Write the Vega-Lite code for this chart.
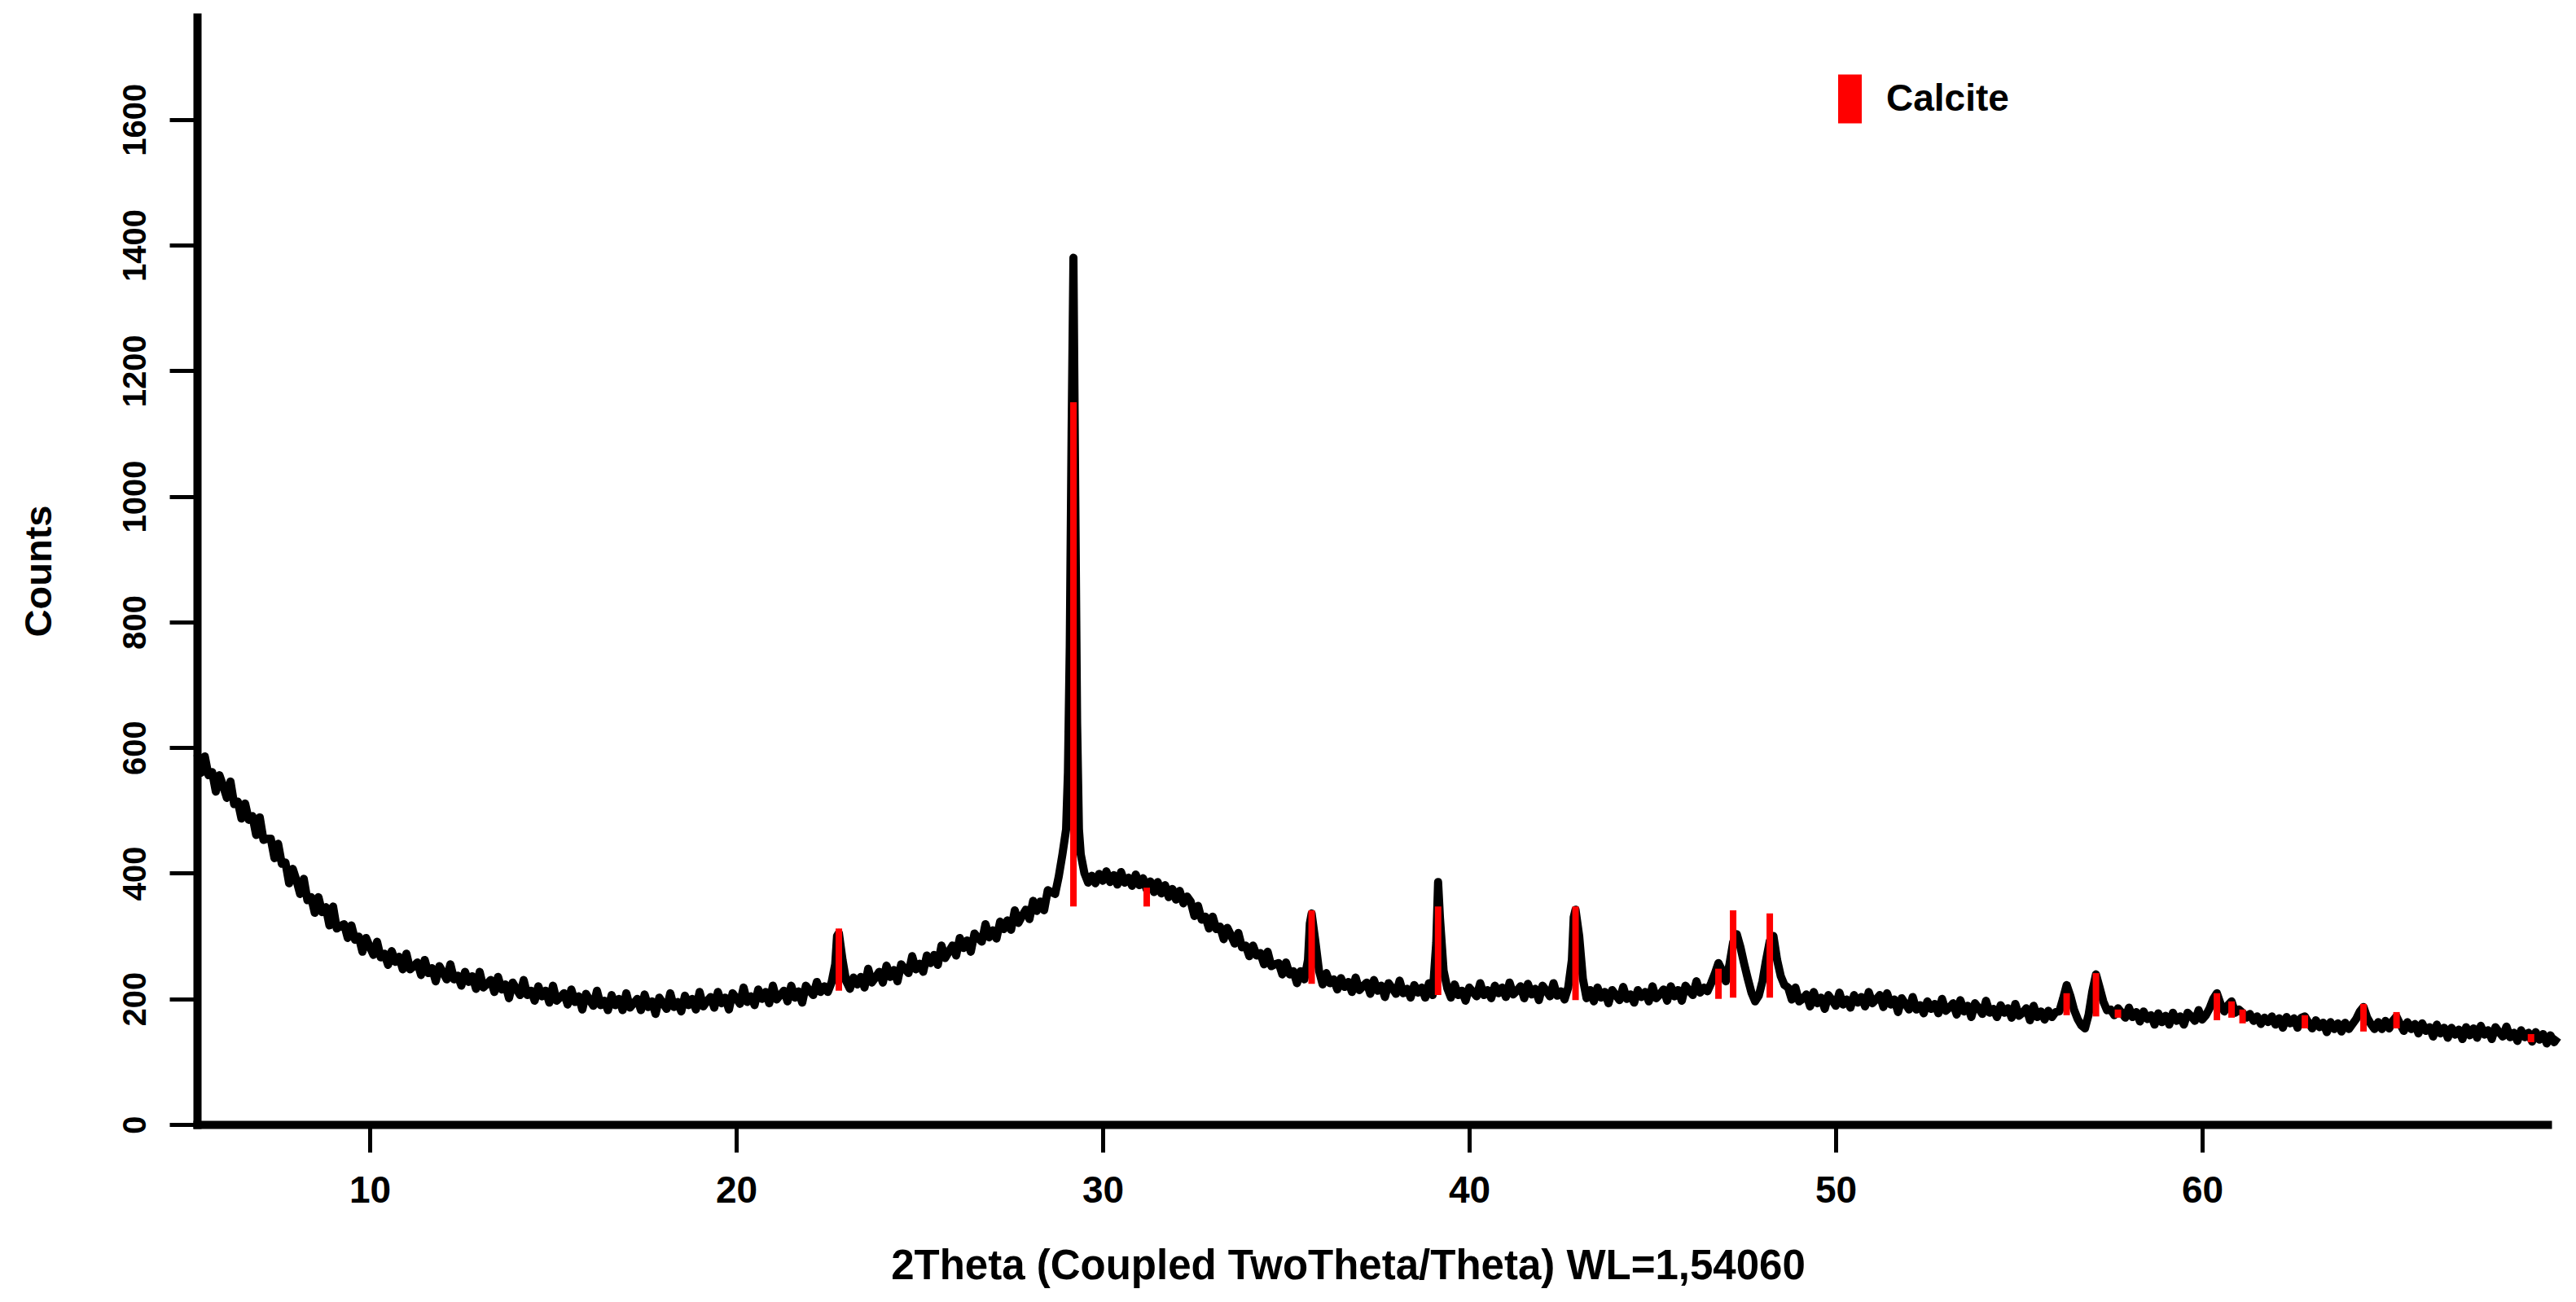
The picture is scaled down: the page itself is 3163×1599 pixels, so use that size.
{
  "$schema": "https://vega.github.io/schema/vega-lite/v6.json",
  "width": 2886,
  "height": 1360,
  "autosize": {"type": "none"},
  "padding": {"left": 242, "top": 21, "right": 35, "bottom": 218},
  "background": "white",
  "config": {
    "view": {"stroke": null},
    "font": "Liberation Sans",
    "axis": {
      "grid": false,
      "domainColor": "#000000",
      "domainWidth": 10,
      "domainCap": "square",
      "tickColor": "#000000",
      "tickWidth": 5,
      "tickSize": 34,
      "labelColor": "#000000",
      "labelFont": "Liberation Sans",
      "labelFontWeight": "bold",
      "titleFont": "Liberation Sans",
      "titleFontWeight": "bold",
      "titleColor": "#000000",
      "labelFlush": false,
      "labelOverlap": false
    }
  },
  "datasets": {
    "scan": [
      {"t":5.3,"c":589},{"t":5.4,"c":560},{"t":5.5,"c":586},{"t":5.6,"c":556},{"t":5.7,"c":561},{"t":5.8,"c":530},{"t":5.9,"c":556},{"t":6.0,"c":539},{"t":6.1,"c":520},{"t":6.2,"c":546},
      {"t":6.3,"c":510},{"t":6.4,"c":514},{"t":6.5,"c":487},{"t":6.6,"c":511},{"t":6.7,"c":485},{"t":6.8,"c":491},{"t":6.9,"c":461},{"t":7.0,"c":489},{"t":7.1,"c":453},{"t":7.2,"c":455},
      {"t":7.3,"c":455},{"t":7.4,"c":424},{"t":7.5,"c":447},{"t":7.6,"c":415},{"t":7.7,"c":417},{"t":7.8,"c":384},{"t":7.9,"c":407},{"t":8.0,"c":389},{"t":8.1,"c":367},{"t":8.2,"c":391},
      {"t":8.3,"c":357},{"t":8.4,"c":362},{"t":8.5,"c":337},{"t":8.6,"c":362},{"t":8.7,"c":338},{"t":8.8,"c":346},{"t":8.9,"c":317},{"t":9.0,"c":347},{"t":9.1,"c":312},{"t":9.2,"c":316},
      {"t":9.3,"c":319},{"t":9.4,"c":297},{"t":9.5,"c":317},{"t":9.6,"c":294},{"t":9.7,"c":299},{"t":9.8,"c":275},{"t":9.9,"c":297},{"t":10.0,"c":283},{"t":10.1,"c":270},{"t":10.2,"c":291},
      {"t":10.3,"c":266},{"t":10.4,"c":272},{"t":10.5,"c":254},{"t":10.6,"c":276},{"t":10.7,"c":259},{"t":10.8,"c":267},{"t":10.9,"c":247},{"t":11.0,"c":272},{"t":11.1,"c":247},{"t":11.2,"c":252},
      {"t":11.3,"c":258},{"t":11.4,"c":238},{"t":11.5,"c":262},{"t":11.6,"c":241},{"t":11.7,"c":249},{"t":11.8,"c":228},{"t":11.9,"c":252},{"t":12.0,"c":242},{"t":12.1,"c":231},{"t":12.2,"c":255},
      {"t":12.3,"c":231},{"t":12.4,"c":237},{"t":12.5,"c":221},{"t":12.6,"c":243},{"t":12.7,"c":227},{"t":12.8,"c":236},{"t":12.9,"c":216},{"t":13.0,"c":243},{"t":13.1,"c":218},{"t":13.2,"c":224},
      {"t":13.3,"c":230},{"t":13.4,"c":211},{"t":13.5,"c":235},{"t":13.6,"c":215},{"t":13.7,"c":223},{"t":13.8,"c":201},{"t":13.9,"c":226},{"t":14.0,"c":216},{"t":14.1,"c":206},{"t":14.2,"c":230},
      {"t":14.3,"c":206},{"t":14.4,"c":213},{"t":14.5,"c":197},{"t":14.6,"c":220},{"t":14.7,"c":204},{"t":14.8,"c":213},{"t":14.9,"c":194},{"t":15.0,"c":221},{"t":15.1,"c":197},{"t":15.2,"c":203},
      {"t":15.3,"c":209},{"t":15.4,"c":191},{"t":15.5,"c":215},{"t":15.6,"c":195},{"t":15.7,"c":204},{"t":15.8,"c":183},{"t":15.9,"c":208},{"t":16.0,"c":198},{"t":16.1,"c":189},{"t":16.2,"c":213},
      {"t":16.3,"c":190},{"t":16.4,"c":197},{"t":16.5,"c":182},{"t":16.6,"c":206},{"t":16.7,"c":190},{"t":16.8,"c":200},{"t":16.9,"c":182},{"t":17.0,"c":209},{"t":17.1,"c":186},{"t":17.2,"c":193},
      {"t":17.3,"c":200},{"t":17.4,"c":182},{"t":17.5,"c":207},{"t":17.6,"c":187},{"t":17.7,"c":196},{"t":17.8,"c":176},{"t":17.9,"c":202},{"t":18.0,"c":193},{"t":18.1,"c":184},{"t":18.2,"c":209},
      {"t":18.3,"c":187},{"t":18.4,"c":195},{"t":18.5,"c":180},{"t":18.6,"c":205},{"t":18.7,"c":190},{"t":18.8,"c":200},{"t":18.9,"c":183},{"t":19.0,"c":211},{"t":19.1,"c":188},{"t":19.2,"c":196},
      {"t":19.3,"c":203},{"t":19.4,"c":186},{"t":19.5,"c":211},{"t":19.6,"c":193},{"t":19.7,"c":202},{"t":19.8,"c":183},{"t":19.9,"c":209},{"t":20.0,"c":201},{"t":20.1,"c":192},{"t":20.2,"c":218},
      {"t":20.3,"c":195},{"t":20.4,"c":204},{"t":20.5,"c":190},{"t":20.6,"c":215},{"t":20.7,"c":200},{"t":20.8,"c":211},{"t":20.9,"c":193},{"t":21.0,"c":221},{"t":21.1,"c":199},{"t":21.2,"c":206},
      {"t":21.3,"c":213},{"t":21.4,"c":196},{"t":21.5,"c":221},{"t":21.6,"c":202},{"t":21.7,"c":212},{"t":21.8,"c":194},{"t":21.9,"c":221},{"t":22.0,"c":213},{"t":22.1,"c":206},{"t":22.2,"c":227},
      {"t":22.3,"c":211},{"t":22.4,"c":220},{"t":22.5,"c":211},{"t":22.6,"c":226},{"t":22.7,"c":255},{"t":22.75,"c":300},{"t":22.8,"c":305},{"t":22.9,"c":262},{"t":23.0,"c":228},{"t":23.1,"c":216},{"t":23.2,"c":234},
      {"t":23.3,"c":223},{"t":23.4,"c":235},{"t":23.5,"c":218},{"t":23.6,"c":248},{"t":23.7,"c":226},{"t":23.8,"c":234},{"t":23.9,"c":243},{"t":24.0,"c":226},{"t":24.1,"c":253},{"t":24.2,"c":235},
      {"t":24.3,"c":246},{"t":24.4,"c":228},{"t":24.5,"c":255},{"t":24.6,"c":248},{"t":24.7,"c":241},{"t":24.8,"c":268},{"t":24.9,"c":247},{"t":25.0,"c":256},{"t":25.1,"c":243},{"t":25.2,"c":269},
      {"t":25.3,"c":257},{"t":25.4,"c":270},{"t":25.5,"c":254},{"t":25.6,"c":285},{"t":25.7,"c":265},{"t":25.8,"c":275},{"t":25.9,"c":285},{"t":26.0,"c":269},{"t":26.1,"c":297},{"t":26.2,"c":281},
      {"t":26.3,"c":293},{"t":26.4,"c":275},{"t":26.5,"c":304},{"t":26.6,"c":297},{"t":26.7,"c":291},{"t":26.8,"c":319},{"t":26.9,"c":298},{"t":27.0,"c":309},{"t":27.1,"c":296},{"t":27.2,"c":323},
      {"t":27.3,"c":311},{"t":27.4,"c":325},{"t":27.5,"c":310},{"t":27.6,"c":341},{"t":27.7,"c":321},{"t":27.8,"c":332},{"t":27.9,"c":342},{"t":28.0,"c":327},{"t":28.1,"c":356},{"t":28.2,"c":340},
      {"t":28.3,"c":355},{"t":28.4,"c":341},{"t":28.5,"c":373},{"t":28.6,"c":370},{"t":28.7,"c":367},{"t":28.8,"c":395},{"t":28.9,"c":430},{"t":29.0,"c":470},{"t":29.05,"c":560},{"t":29.1,"c":760},
      {"t":29.15,"c":1100},{"t":29.2,"c":1380},{"t":29.25,"c":1000},{"t":29.3,"c":640},{"t":29.35,"c":470},{"t":29.4,"c":430},{"t":29.5,"c":400},{"t":29.6,"c":385},{"t":29.7,"c":396},{"t":29.8,"c":384},
      {"t":29.9,"c":399},{"t":30.0,"c":388},{"t":30.1,"c":403},{"t":30.2,"c":386},{"t":30.3,"c":397},{"t":30.4,"c":382},{"t":30.5,"c":402},{"t":30.6,"c":385},{"t":30.7,"c":393},{"t":30.8,"c":380},
      {"t":30.9,"c":398},{"t":31.0,"c":381},{"t":31.1,"c":392},{"t":31.2,"c":374},{"t":31.3,"c":387},{"t":31.4,"c":370},{"t":31.5,"c":386},{"t":31.6,"c":368},{"t":31.7,"c":381},{"t":31.8,"c":362},
      {"t":31.9,"c":375},{"t":32.0,"c":358},{"t":32.1,"c":372},{"t":32.2,"c":352},{"t":32.3,"c":363},{"t":32.4,"c":355},{"t":32.5,"c":332},{"t":32.6,"c":348},{"t":32.7,"c":326},{"t":32.8,"c":331},
      {"t":32.9,"c":312},{"t":33.0,"c":331},{"t":33.1,"c":311},{"t":33.2,"c":315},{"t":33.3,"c":295},{"t":33.4,"c":313},{"t":33.5,"c":301},{"t":33.6,"c":288},{"t":33.7,"c":305},{"t":33.8,"c":282},
      {"t":33.9,"c":285},{"t":34.0,"c":268},{"t":34.1,"c":285},{"t":34.2,"c":269},{"t":34.3,"c":273},{"t":34.4,"c":255},{"t":34.5,"c":275},{"t":34.6,"c":252},{"t":34.7,"c":255},{"t":34.8,"c":257},
      {"t":34.9,"c":239},{"t":35.0,"c":258},{"t":35.1,"c":239},{"t":35.2,"c":244},{"t":35.3,"c":225},{"t":35.4,"c":244},{"t":35.5,"c":231},{"t":35.6,"c":262},{"t":35.65,"c":320},{"t":35.7,"c":336},
      {"t":35.8,"c":292},{"t":35.9,"c":245},{"t":36.0,"c":223},{"t":36.1,"c":241},{"t":36.2,"c":225},{"t":36.3,"c":231},{"t":36.4,"c":215},{"t":36.5,"c":233},{"t":36.6,"c":219},{"t":36.7,"c":227},
      {"t":36.8,"c":211},{"t":36.9,"c":234},{"t":37.0,"c":214},{"t":37.1,"c":220},{"t":37.2,"c":226},{"t":37.3,"c":208},{"t":37.4,"c":230},{"t":37.5,"c":213},{"t":37.6,"c":221},{"t":37.7,"c":203},
      {"t":37.8,"c":225},{"t":37.9,"c":217},{"t":38.0,"c":208},{"t":38.1,"c":229},{"t":38.2,"c":209},{"t":38.3,"c":216},{"t":38.4,"c":202},{"t":38.5,"c":222},{"t":38.6,"c":210},{"t":38.7,"c":218},
      {"t":38.8,"c":202},{"t":38.9,"c":225},{"t":39.0,"c":206},{"t":39.1,"c":290},{"t":39.15,"c":386},{"t":39.2,"c":330},{"t":39.3,"c":245},{"t":39.4,"c":217},{"t":39.5,"c":202},{"t":39.6,"c":223},
      {"t":39.7,"c":206},{"t":39.8,"c":213},{"t":39.9,"c":197},{"t":40.0,"c":218},{"t":40.1,"c":211},{"t":40.2,"c":204},{"t":40.3,"c":225},{"t":40.4,"c":206},{"t":40.5,"c":214},{"t":40.6,"c":201},
      {"t":40.7,"c":221},{"t":40.8,"c":209},{"t":40.9,"c":218},{"t":41.0,"c":203},{"t":41.1,"c":226},{"t":41.2,"c":207},{"t":41.3,"c":213},{"t":41.4,"c":220},{"t":41.5,"c":201},{"t":41.6,"c":224},
      {"t":41.7,"c":207},{"t":41.8,"c":216},{"t":41.9,"c":198},{"t":42.0,"c":221},{"t":42.1,"c":213},{"t":42.2,"c":204},{"t":42.3,"c":225},{"t":42.4,"c":205},{"t":42.5,"c":212},{"t":42.6,"c":199},
      {"t":42.7,"c":218},{"t":42.8,"c":262},{"t":42.85,"c":330},{"t":42.9,"c":342},{"t":43.0,"c":300},{"t":43.1,"c":232},{"t":43.2,"c":201},{"t":43.3,"c":214},{"t":43.4,"c":196},{"t":43.5,"c":218},
      {"t":43.6,"c":202},{"t":43.7,"c":211},{"t":43.8,"c":193},{"t":43.9,"c":214},{"t":44.0,"c":206},{"t":44.1,"c":198},{"t":44.2,"c":219},{"t":44.3,"c":200},{"t":44.4,"c":207},{"t":44.5,"c":194},
      {"t":44.6,"c":214},{"t":44.7,"c":203},{"t":44.8,"c":211},{"t":44.9,"c":196},{"t":45.0,"c":220},{"t":45.1,"c":201},{"t":45.2,"c":207},{"t":45.3,"c":215},{"t":45.4,"c":197},{"t":45.5,"c":220},
      {"t":45.6,"c":204},{"t":45.7,"c":214},{"t":45.8,"c":197},{"t":45.9,"c":221},{"t":46.0,"c":213},{"t":46.1,"c":206},{"t":46.2,"c":228},{"t":46.3,"c":210},{"t":46.4,"c":218},{"t":46.5,"c":212},
      {"t":46.6,"c":225},{"t":46.7,"c":240},{"t":46.8,"c":257},{"t":46.9,"c":245},{"t":47.0,"c":228},{"t":47.1,"c":255},{"t":47.2,"c":290},{"t":47.3,"c":303},{"t":47.4,"c":282},{"t":47.5,"c":256},
      {"t":47.6,"c":232},{"t":47.7,"c":210},{"t":47.8,"c":196},{"t":47.9,"c":205},{"t":48.0,"c":228},{"t":48.1,"c":262},{"t":48.2,"c":292},{"t":48.3,"c":300},{"t":48.4,"c":262},{"t":48.5,"c":236},
      {"t":48.6,"c":222},{"t":48.7,"c":218},{"t":48.8,"c":199},{"t":48.9,"c":218},{"t":49.0,"c":196},{"t":49.1,"c":200},{"t":49.2,"c":207},{"t":49.3,"c":188},{"t":49.4,"c":211},{"t":49.5,"c":193},
      {"t":49.6,"c":202},{"t":49.7,"c":184},{"t":49.8,"c":206},{"t":49.9,"c":198},{"t":50.0,"c":189},{"t":50.1,"c":210},{"t":50.2,"c":191},{"t":50.3,"c":199},{"t":50.4,"c":186},{"t":50.5,"c":206},
      {"t":50.6,"c":194},{"t":50.7,"c":203},{"t":50.8,"c":188},{"t":50.9,"c":211},{"t":51.0,"c":193},{"t":51.1,"c":199},{"t":51.2,"c":206},{"t":51.3,"c":187},{"t":51.4,"c":209},{"t":51.5,"c":191},
      {"t":51.6,"c":199},{"t":51.7,"c":179},{"t":51.8,"c":201},{"t":51.9,"c":192},{"t":52.0,"c":183},{"t":52.1,"c":203},{"t":52.2,"c":183},{"t":52.3,"c":190},{"t":52.4,"c":177},{"t":52.5,"c":196},
      {"t":52.6,"c":184},{"t":52.7,"c":192},{"t":52.8,"c":177},{"t":52.9,"c":200},{"t":53.0,"c":181},{"t":53.1,"c":186},{"t":53.2,"c":193},{"t":53.3,"c":175},{"t":53.4,"c":198},{"t":53.5,"c":180},
      {"t":53.6,"c":189},{"t":53.7,"c":171},{"t":53.8,"c":193},{"t":53.9,"c":185},{"t":54.0,"c":176},{"t":54.1,"c":197},{"t":54.2,"c":178},{"t":54.3,"c":184},{"t":54.4,"c":171},{"t":54.5,"c":190},
      {"t":54.6,"c":178},{"t":54.7,"c":185},{"t":54.8,"c":170},{"t":54.9,"c":192},{"t":55.0,"c":173},{"t":55.1,"c":178},{"t":55.2,"c":185},{"t":55.3,"c":166},{"t":55.4,"c":189},{"t":55.5,"c":171},
      {"t":55.6,"c":180},{"t":55.7,"c":167},{"t":55.8,"c":181},{"t":55.9,"c":171},{"t":56.0,"c":179},{"t":56.1,"c":180},{"t":56.2,"c":200},{"t":56.3,"c":222},{"t":56.4,"c":205},{"t":56.5,"c":183},
      {"t":56.6,"c":168},{"t":56.7,"c":158},{"t":56.8,"c":153},{"t":56.9,"c":175},{"t":57.0,"c":212},{"t":57.1,"c":239},{"t":57.2,"c":218},{"t":57.3,"c":196},{"t":57.4,"c":182},{"t":57.5,"c":183},
      {"t":57.6,"c":174},{"t":57.7,"c":185},{"t":57.8,"c":178},{"t":57.9,"c":170},{"t":58.0,"c":186},{"t":58.1,"c":171},{"t":58.2,"c":179},{"t":58.3,"c":164},{"t":58.4,"c":180},{"t":58.5,"c":168},
      {"t":58.6,"c":174},{"t":58.7,"c":159},{"t":58.8,"c":177},{"t":58.9,"c":163},{"t":59.0,"c":173},{"t":59.1,"c":159},{"t":59.2,"c":178},{"t":59.3,"c":165},{"t":59.4,"c":172},{"t":59.5,"c":159},
      {"t":59.6,"c":178},{"t":59.7,"c":172},{"t":59.8,"c":165},{"t":59.9,"c":182},{"t":60.0,"c":167},{"t":60.1,"c":174},{"t":60.2,"c":185},{"t":60.3,"c":200},{"t":60.4,"c":209},{"t":60.5,"c":192},
      {"t":60.6,"c":180},{"t":60.7,"c":190},{"t":60.8,"c":196},{"t":60.9,"c":178},{"t":61.0,"c":183},{"t":61.1,"c":178},{"t":61.2,"c":170},{"t":61.3,"c":176},{"t":61.4,"c":165},{"t":61.5,"c":172},
      {"t":61.6,"c":160},{"t":61.7,"c":170},{"t":61.8,"c":163},{"t":61.9,"c":172},{"t":62.0,"c":159},{"t":62.1,"c":169},{"t":62.2,"c":154},{"t":62.3,"c":171},{"t":62.4,"c":161},{"t":62.5,"c":169},
      {"t":62.6,"c":154},{"t":62.7,"c":170},{"t":62.8,"c":172},{"t":62.9,"c":162},{"t":63.0,"c":153},{"t":63.1,"c":166},{"t":63.2,"c":155},{"t":63.3,"c":162},{"t":63.4,"c":147},{"t":63.5,"c":163},
      {"t":63.6,"c":152},{"t":63.7,"c":161},{"t":63.8,"c":148},{"t":63.9,"c":162},{"t":64.0,"c":152},{"t":64.1,"c":160},{"t":64.2,"c":168},{"t":64.3,"c":180},{"t":64.4,"c":187},{"t":64.5,"c":170},
      {"t":64.6,"c":160},{"t":64.7,"c":152},{"t":64.8,"c":163},{"t":64.9,"c":152},{"t":65.0,"c":165},{"t":65.1,"c":153},{"t":65.2,"c":165},{"t":65.3,"c":172},{"t":65.4,"c":160},{"t":65.5,"c":149},
      {"t":65.6,"c":163},{"t":65.7,"c":152},{"t":65.8,"c":160},{"t":65.9,"c":145},{"t":66.0,"c":161},{"t":66.1,"c":149},{"t":66.2,"c":155},{"t":66.3,"c":140},{"t":66.4,"c":159},{"t":66.5,"c":145},
      {"t":66.6,"c":154},{"t":66.7,"c":138},{"t":66.8,"c":154},{"t":66.9,"c":143},{"t":67.0,"c":151},{"t":67.1,"c":136},{"t":67.2,"c":155},{"t":67.3,"c":142},{"t":67.4,"c":153},{"t":67.5,"c":138},
      {"t":67.6,"c":157},{"t":67.7,"c":143},{"t":67.8,"c":150},{"t":67.9,"c":136},{"t":68.0,"c":155},{"t":68.1,"c":147},{"t":68.2,"c":140},{"t":68.3,"c":156},{"t":68.4,"c":139},{"t":68.5,"c":146},
      {"t":68.6,"c":133},{"t":68.7,"c":150},{"t":68.8,"c":139},{"t":68.9,"c":146},{"t":69.0,"c":132},{"t":69.1,"c":147},{"t":69.2,"c":135},{"t":69.3,"c":144},{"t":69.4,"c":129},{"t":69.5,"c":142},
      {"t":69.6,"c":131},{"t":69.7,"c":139}
    ],
    "refs": [
      {"t":22.8,"lo":213,"hi":312,"phase":"Calcite"},
      {"t":29.2,"lo":347,"hi":1150,"phase":"Calcite"},
      {"t":31.2,"lo":347,"hi":377,"phase":"Calcite"},
      {"t":35.7,"lo":224,"hi":341,"phase":"Calcite"},
      {"t":39.15,"lo":206,"hi":347,"phase":"Calcite"},
      {"t":42.9,"lo":198,"hi":347,"phase":"Calcite"},
      {"t":46.8,"lo":200,"hi":248,"phase":"Calcite"},
      {"t":47.2,"lo":202,"hi":341,"phase":"Calcite"},
      {"t":48.2,"lo":202,"hi":336,"phase":"Calcite"},
      {"t":56.3,"lo":174,"hi":209,"phase":"Calcite"},
      {"t":57.1,"lo":172,"hi":241,"phase":"Calcite"},
      {"t":57.7,"lo":170,"hi":183,"phase":"Calcite"},
      {"t":60.4,"lo":166,"hi":209,"phase":"Calcite"},
      {"t":60.8,"lo":170,"hi":196,"phase":"Calcite"},
      {"t":61.1,"lo":161,"hi":183,"phase":"Calcite"},
      {"t":62.8,"lo":153,"hi":174,"phase":"Calcite"},
      {"t":64.4,"lo":148,"hi":192,"phase":"Calcite"},
      {"t":65.3,"lo":153,"hi":179,"phase":"Calcite"},
      {"t":68.97,"lo":131,"hi":144,"phase":"Calcite"}
    ]
  },
  "layer": [
    {
      "data": {"name": "scan"},
      "mark": {"type": "line", "color": "#000000", "strokeWidth": 10, "strokeJoin": "round"},
      "encoding": {
        "x": {
          "field": "t", "type": "quantitative",
          "title": "2Theta (Coupled TwoTheta/Theta) WL=1,54060",
          "scale": {"domain": [5.289, 69.42], "nice": false, "zero": false},
          "axis": {
            "values": [10, 20, 30, 40, 50, 60],
            "labelFontSize": 46, "labelPadding": 25, "labelBaseline": "top",
            "titleFontSize": 51, "titleX": 1413, "titleY": 189,
            "titleAlign": "center", "titleBaseline": "alphabetic"
          }
        },
        "y": {
          "field": "c", "type": "quantitative",
          "title": "Counts",
          "scale": {"domain": [0, 1763], "nice": false},
          "axis": {
            "values": [0, 200, 400, 600, 800, 1000, 1200, 1400, 1600],
            "format": "d",
            "labelFontSize": 40, "labelAngle": 270, "labelAlign": "center",
            "labelBaseline": "bottom", "labelPadding": 22,
            "titleFontSize": 47, "titleAngle": 270, "titleX": -180, "titleY": 680,
            "titleAlign": "center", "titleBaseline": "alphabetic"
          }
        }
      }
    },
    {
      "data": {"name": "refs"},
      "mark": {"type": "rule", "strokeWidth": 8},
      "encoding": {
        "x": {"field": "t", "type": "quantitative", "title": "2Theta (Coupled TwoTheta/Theta) WL=1,54060"},
        "y": {"field": "lo", "type": "quantitative", "title": "Counts"},
        "y2": {"field": "hi"},
        "color": {
          "field": "phase", "type": "nominal",
          "scale": {"range": ["#ff0000"]},
          "legend": {
            "title": null, "orient": "none", "legendX": 1985, "legendY": 56,
            "padding": 0,
            "symbolType": "M0,-1L0,1", "symbolSize": 3600, "symbolStrokeWidth": 29,
            "labelFont": "Liberation Sans", "labelFontSize": 46, "labelFontWeight": "bold",
            "labelColor": "#000000", "labelOffset": 0
          }
        }
      }
    }
  ]
}
